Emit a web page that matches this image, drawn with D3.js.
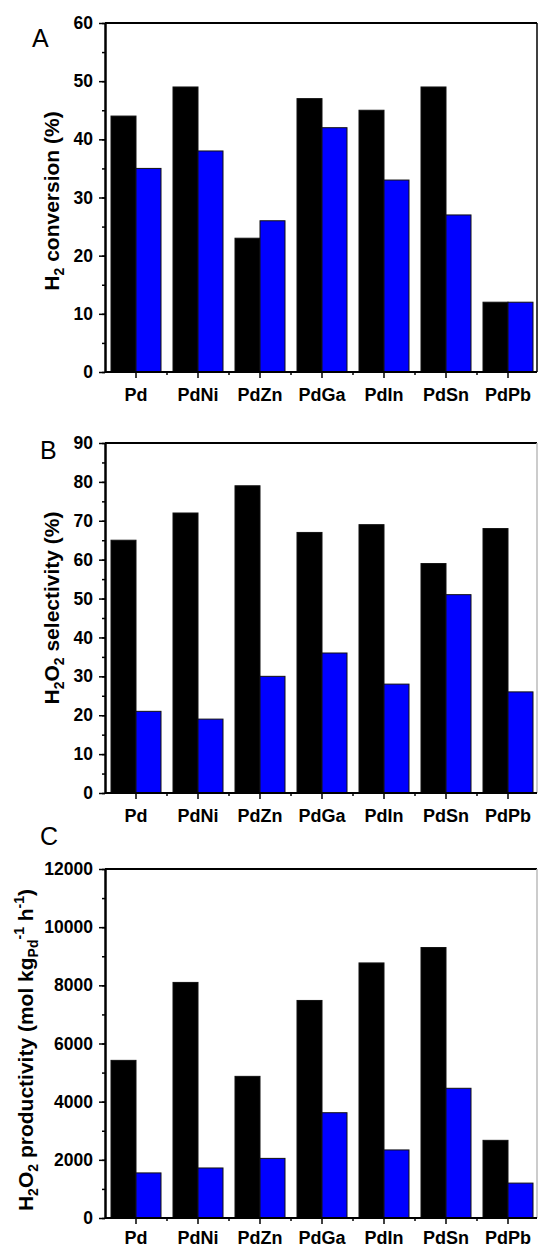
<!DOCTYPE html>
<html lang="en">
<head>
  <meta charset="UTF-8">
  <title>Pd catalysts</title>
  <script src="https://cdn.jsdelivr.net/npm/d3@7"></script>
  <style>
    body { margin: 0; background: #fff; }
    svg { display: block; font-family: "Liberation Sans", Arial, sans-serif; }
  </style>
</head>
<body>
  <svg width="538" height="1247" id="chart"></svg>
  <script>
    // data
    const catalysts = ['Pd', 'PdNi', 'PdZn', 'PdGa', 'PdIn', 'PdSn', 'PdPb'];
    const conversionBlack = [44, 49, 23, 47, 45, 49, 12];
    const conversionBlue = [35, 38, 26, 42, 33, 27, 12];
    const selectivityBlack = [65, 72, 79, 67, 69, 59, 68];
    const selectivityBlue = [21, 19, 30, 36, 28, 51, 26];
    const productivityBlack = [5420, 8100, 4870, 7480, 8770, 9300, 2670];
    const productivityBlue = [1550, 1720, 2050, 3620, 2340, 4460, 1200];

    const svg = d3.select('#chart');
    const left = 105, right = 539, frameRight = 537;

    function drawPanel(args) {
      let g = svg.append('g'),
        top = args.top,
        bottom = args.bottom;

      let x = d3.scaleBand().domain(catalysts).range([left, right]).padding(0);
      let sub = d3.scaleBand().domain(['black', 'blue']).range([-25, 25]);
      let y = d3.scaleLinear().domain([0, args.max]).range([bottom, top]);

      // bars
      let rows = catalysts.map((c, i) => ({ c: c, black: args.black[i], blue: args.blue[i] }));
      let groups = g.selectAll('.cat')
        .data(rows)
        .enter()
        .append('g')
        .attr('transform', d => `translate(${x(d.c) + x.bandwidth() / 2}, 0)`);
      groups.selectAll('rect')
        .data(d => [{ k: 'black', v: d.black }, { k: 'blue', v: d.blue }])
        .enter()
        .append('rect')
        .attr('x', d => sub(d.k))
        .attr('width', sub.bandwidth())
        .attr('y', d => y(d.v))
        .attr('height', d => bottom - y(d.v))
        .attr('fill', d => d.k === 'black' ? '#000' : '#0000ff')
        .attr('stroke', '#111')
        .attr('stroke-width', 1);

      // frame top + right
      g.append('line')
        .attr('x1', left).attr('x2', frameRight)
        .attr('y1', top).attr('y2', top)
        .attr('stroke', '#000').attr('stroke-width', 2);
      g.append('line')
        .attr('x1', frameRight).attr('x2', frameRight)
        .attr('y1', top).attr('y2', bottom)
        .attr('stroke', args.rightColor).attr('stroke-width', 1.5);

      // y axis
      let yMinor = g.append('g')
        .attr('transform', `translate(${left}, 0)`)
        .call(d3.axisLeft(y).tickValues(d3.range(0, args.max + 1, args.step / 2)).tickSize(3).tickFormat(''));
      yMinor.select('.domain').remove();
      yMinor.selectAll('line').attr('stroke-width', 1.5);

      let yAxis = g.append('g')
        .attr('transform', `translate(${left}, 0)`)
        .call(d3.axisLeft(y)
          .tickValues(d3.range(0, args.max + 1, args.step))
          .tickFormat(d3.format('d'))
          .tickSize(6).tickSizeOuter(0).tickPadding(6));
      yAxis.select('.domain').attr('stroke-width', 2.5);
      yAxis.selectAll('line').attr('stroke-width', 1.5);
      yAxis.selectAll('text')
        .attr('font-size', '17.5px')
        .attr('font-weight', 'bold')
        .attr('font-family', '"Liberation Sans", Arial, sans-serif')
        .attr('fill', '#000');

      // x axis minor ticks at band edges
      g.append('g')
        .attr('transform', `translate(0, ${bottom})`)
        .selectAll('line')
        .data(catalysts.slice(1))
        .enter()
        .append('line')
        .attr('x1', d => x(d)).attr('x2', d => x(d))
        .attr('y1', 0).attr('y2', 3)
        .attr('stroke', '#000').attr('stroke-width', 1.5);

      let xAxis = g.append('g')
        .attr('transform', `translate(0, ${bottom})`)
        .call(d3.axisBottom(x).tickSize(6).tickSizeOuter(0).tickPadding(args.xPad));
      xAxis.select('.domain')
        .attr('d', `M${left},0H${frameRight}`)
        .attr('stroke-width', 2);
      xAxis.selectAll('line').attr('stroke-width', 1.5);
      xAxis.selectAll('text')
        .attr('font-size', '18px')
        .attr('font-weight', 'bold')
        .attr('font-family', '"Liberation Sans", Arial, sans-serif')
        .attr('fill', '#000');

      // panel letter
      g.append('text')
        .attr('x', args.letterX)
        .attr('y', args.letterY)
        .attr('font-size', '25px')
        .text(args.letter);

      // y title with sub/superscripts
      let title = g.append('text')
        .attr('transform', `translate(${args.titleX}, ${args.titleY}) rotate(-90)`)
        .attr('text-anchor', 'middle')
        .attr('font-size', '21px')
        .attr('font-weight', 'bold');
      args.title.forEach(p => {
        title.append('tspan')
          .attr('dy', p.dy || 0)
          .attr('font-size', p.small ? '14px' : '21px')
          .text(p.t);
      });
    }

    drawPanel({
      top: 23, bottom: 372, max: 60, step: 10, xPad: 10,
      black: conversionBlack, blue: conversionBlue,
      letter: 'A', letterX: 32, letterY: 47,
      titleX: 59, titleY: 201, rightColor: '#000',
      title: [
        { t: 'H' }, { t: '2', small: true, dy: 5 }, { t: ' conversion (%)', dy: -5 }
      ]
    });

    drawPanel({
      top: 443, bottom: 793, max: 90, step: 10, xPad: 10,
      black: selectivityBlack, blue: selectivityBlue,
      letter: 'B', letterX: 40, letterY: 459,
      titleX: 59, titleY: 608, rightColor: '#bbb',
      title: [
        { t: 'H' }, { t: '2', small: true, dy: 5 }, { t: 'O', dy: -5 },
        { t: '2', small: true, dy: 5 }, { t: ' selectivity (%)', dy: -5 }
      ]
    });

    drawPanel({
      top: 869, bottom: 1218, max: 12000, step: 2000, xPad: 7,
      black: productivityBlack, blue: productivityBlue,
      letter: 'C', letterX: 40, letterY: 845,
      titleX: 33, titleY: 1050, rightColor: '#bbb',
      title: [
        { t: 'H' }, { t: '2', small: true, dy: 5 }, { t: 'O', dy: -5 },
        { t: '2', small: true, dy: 5 }, { t: ' productivity (mol kg', dy: -5 },
        { t: 'Pd', small: true, dy: 5 }, { t: '-1', small: true, dy: -14 },
        { t: ' h', dy: 9 }, { t: '-1', small: true, dy: -9 }, { t: ')', dy: 9 }
      ]
    });
  </script>
</body>
</html>
